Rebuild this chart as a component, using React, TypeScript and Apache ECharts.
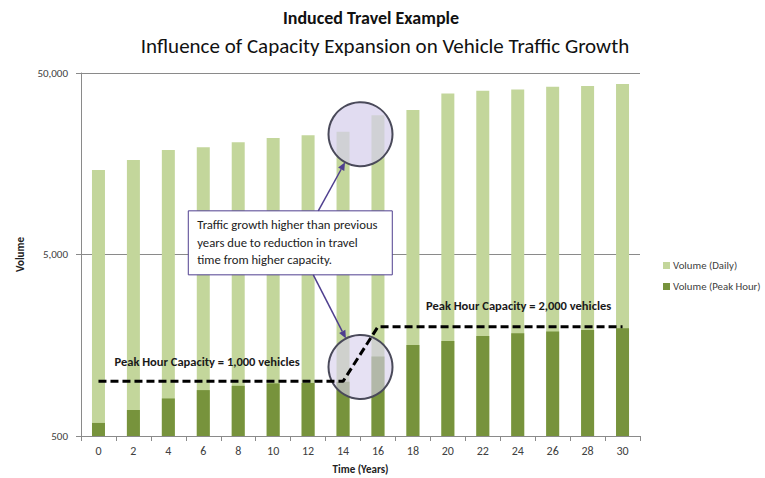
import React, { useEffect, useRef } from "react";
import * as echarts from "echarts";

const years = ["0", "2", "4", "6", "8", "10", "12", "14", "16", "18", "20", "22", "24", "26", "28", "30"];
const dailyVolume = [14600, 16600, 18800, 19500, 20800, 21900, 22700, 23700, 29300, 31300, 38600, 39900, 40600, 42000, 42400, 43500];
const peakVolume = [590, 695, 805, 895, 945, 975, 980, 995, 1370, 1585, 1670, 1780, 1840, 1880, 1920, 1960];
const peakCapacity = [1000, 1000, 1000, 1000, 1000, 1000, 1000, 1000, 2000, 2000, 2000, 2000, 2000, 2000, 2000, 2000];
const yTicks = [500, 5000, 50000];
const capacityLabels = ["Peak Hour Capacity = 1,000 vehicles", "Peak Hour Capacity = 2,000 vehicles"];
const noteText = ["Traffic growth higher than previous", "years due to reduction in travel", "time from higher capacity."];

const FONT = "Carlito, Calibri, Lato, 'Open Sans', sans-serif";
const LIGHT = "#c3d69b";
const DARK = "#77933c";
const PURPLE = "#4f3f8f";

export default function App() {
  const ref = useRef<HTMLDivElement>(null);

  useEffect(() => {
    if (!ref.current) return;
    const chart = echarts.init(ref.current, null, { renderer: "svg" });
    const option: any = {
      animation: false,
      backgroundColor: "#ffffff",
      textStyle: { fontFamily: FONT },
      title: [
        {
          text: "Induced Travel Example",
          left: 366,
          top: 4,
          textAlign: "center",
          textStyle: { fontFamily: FONT, fontSize: 18, fontWeight: "bold", color: "#111" },
        },
        {
          text: "Influence of Capacity Expansion on Vehicle Traffic Growth",
          left: 380,
          top: 30,
          textAlign: "center",
          textStyle: { fontFamily: FONT, fontSize: 21, fontWeight: "normal", color: "#111" },
        },
      ],
      legend: {
        orient: "vertical",
        left: 658,
        top: 255,
        itemWidth: 7,
        itemHeight: 7,
        itemGap: 10,
        icon: "rect",
        textStyle: { fontFamily: FONT, fontSize: 10.8, color: "#404040", padding: [0, 0, 0, -2] },
        data: ["Volume (Daily)", "Volume (Peak Hour)"],
      },
      grid: { left: 81, right: 125, top: 73, bottom: 42, containLabel: false, outerBoundsMode: "none" },
      xAxis: {
        type: "category",
        data: years,
        name: "Time (Years)",
        nameLocation: "middle",
        nameGap: 28,
        nameTextStyle: { fontFamily: FONT, fontSize: 11, fontWeight: "bold", color: "#222" },
        axisLine: { lineStyle: { color: "#8a8a8a", width: 1 } },
        axisTick: { show: true, alignWithLabel: false, length: 5, lineStyle: { color: "#8a8a8a" } },
        axisLabel: { fontFamily: FONT, fontSize: 12, color: "#404040", margin: 9 },
      },
      yAxis: {
        type: "log",
        logBase: 10,
        min: 500,
        max: 50000,
        name: "Volume",
        nameLocation: "middle",
        nameGap: 54,
        nameTextStyle: { fontFamily: FONT, fontSize: 11, fontWeight: "bold", color: "#222" },
        axisLine: { show: true, lineStyle: { color: "#8a8a8a", width: 1 } },
        axisTick: { show: true, length: 5, customValues: yTicks, lineStyle: { color: "#8a8a8a" } },
        axisLabel: {
          customValues: yTicks,
          fontFamily: FONT,
          fontSize: 11,
          color: "#404040",
          margin: 13,
          formatter: (v: number) => Math.round(v).toLocaleString("en-US"),
        },
        splitLine: { show: true, lineStyle: { color: "#8a8a8a", width: 1 } },
      },
      series: [
        {
          name: "Volume (Daily)",
          type: "bar",
          data: dailyVolume,
          barWidth: 13,
          barGap: "-100%",
          itemStyle: { color: LIGHT },
          clip: true,
          z: 2,
        },
        {
          name: "Volume (Peak Hour)",
          type: "bar",
          data: peakVolume,
          barWidth: 13,
          barGap: "-100%",
          itemStyle: { color: DARK },
          clip: true,
          z: 3,
        },
        {
          name: "Peak Hour Capacity",
          type: "line",
          data: peakCapacity,
          symbol: "none",
          lineStyle: { color: "#000", width: 3, type: [8, 4] },
          z: 10,
        },
      ],
    };
    chart.setOption(option);

    const px = (cat: string, val: number) =>
      chart.convertToPixel({ xAxisIndex: 0, yAxisIndex: 0 }, [cat, val]) as number[];

    const a14 = px("14", 1000);
    const a16 = px("16", 1000);
    const cx = (a14[0] + a16[0]) / 2;
    const topC = [cx, px("14", 23000)[1]];
    const botC = [cx, px("14", 1200)[1]];
    const R = 32;

    const boxL = px("6", 1000)[0] - 15;
    const boxT = px("0", 8700)[1];
    const boxW = 204;
    const boxH = 64;

    const arrow = (start: number[], center: number[]) => {
      const dx = center[0] - start[0];
      const dy = center[1] - start[1];
      const len = Math.sqrt(dx * dx + dy * dy);
      const ux = dx / len;
      const uy = dy / len;
      const end = [center[0] - ux * R, center[1] - uy * R];
      const hl = 8;
      const hw = 3.5;
      const bx = end[0] - ux * hl;
      const by = end[1] - uy * hl;
      return [
        {
          type: "line",
          z: 20,
          shape: { x1: start[0], y1: start[1], x2: bx, y2: by },
          style: { stroke: PURPLE, lineWidth: 1.5 },
        },
        {
          type: "polygon",
          z: 20,
          shape: {
            points: [
              [end[0], end[1]],
              [bx - uy * hw, by + ux * hw],
              [bx + uy * hw, by - ux * hw],
            ],
          },
          style: { fill: PURPLE },
        },
      ];
    };

    const lbl1 = px("0", 1000);
    const lbl2 = px("16", 2000);

    const graphic: any[] = [
      {
        type: "circle",
        z: 5,
        shape: { cx: topC[0], cy: topC[1], r: R },
        style: { fill: "rgba(214,206,236,0.72)", stroke: "#4a4a5a", lineWidth: 2 },
      },
      {
        type: "circle",
        z: 5,
        shape: { cx: botC[0], cy: botC[1], r: R },
        style: { fill: "rgba(214,206,236,0.62)", stroke: "#4a4a5a", lineWidth: 2 },
      },
      {
        type: "rect",
        z: 20,
        shape: { x: boxL, y: boxT, width: boxW, height: boxH },
        style: { fill: "#ffffff", stroke: PURPLE, lineWidth: 1 },
      },
      {
        type: "text",
        z: 21,
        x: boxL + 9,
        y: boxT + 5,
        style: {
          text: noteText.join("\n"),
          font: `12.7px ${FONT}`,
          fill: "#222",
          lineHeight: 17.5,
        },
      },
      ...arrow([boxL + 130, boxT], topC),
      ...arrow([boxL + 125, boxT + boxH], botC),
      {
        type: "text",
        z: 21,
        x: lbl1[0] + 16,
        y: lbl1[1] - 20,
        style: {
          text: capacityLabels[0],
          font: `bold 12.5px ${FONT}`,
          fill: "#1a1a1a",
          textVerticalAlign: "middle",
        },
      },
      {
        type: "text",
        z: 21,
        x: lbl2[0] + 48,
        y: lbl2[1] - 21,
        style: {
          text: capacityLabels[1],
          font: `bold 12.5px ${FONT}`,
          fill: "#1a1a1a",
          textVerticalAlign: "middle",
        },
      },
    ];
    chart.setOption({ graphic });

    return () => chart.dispose();
  }, []);

  return <div ref={ref} style={{ width: 765, height: 478, position: "fixed", left: 0, top: 0 }} />;
}
